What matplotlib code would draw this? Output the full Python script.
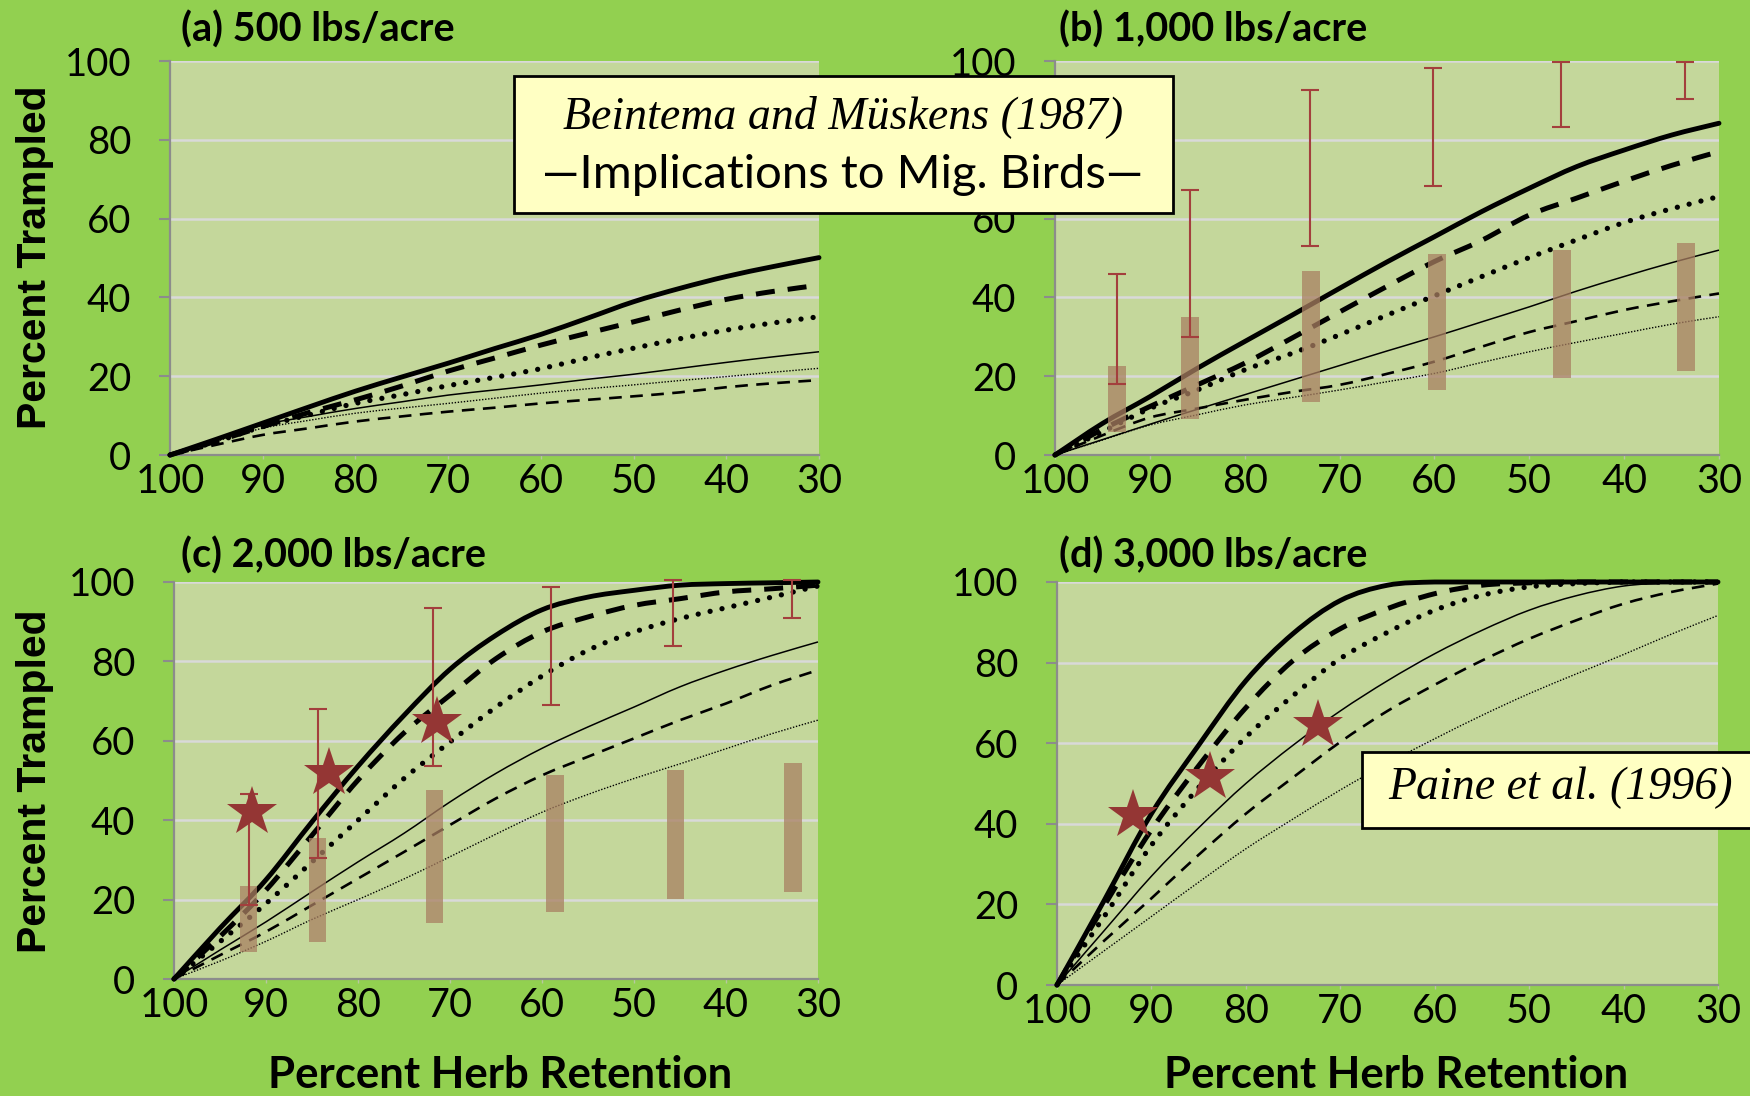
import matplotlib
matplotlib.use('Agg')
import matplotlib.pyplot as plt
from matplotlib.patches import Rectangle, PathPatch
from matplotlib.path import Path

# ---------------- data ----------------
X = [100, 95, 90, 85, 80, 75, 70, 65, 60, 55, 50, 45, 40, 35, 30]
xticks = [100, 90, 80, 70, 60, 50, 40, 30]
yticks = [0, 20, 40, 60, 80, 100]

panel_titles = ["(a) 500 lbs/acre", "(b) 1,000 lbs/acre", "(c) 2,000 lbs/acre", "(d) 3,000 lbs/acre"]

# panel (a)
a_thick_solid = [0, 4, 8.1, 12.2, 16.2, 19.8, 23.3, 27, 30.6, 34.7, 38.9, 42.3, 45.3, 47.8, 50.1]
a_thick_dash  = [0, 3.5, 7.2, 10.8, 14, 17.5, 21.3, 24.6, 27.9, 30.9, 33.8, 36.8, 39.5, 41.5, 43.1]
a_thick_dot   = [0, 3.4, 7.2, 10.2, 13.1, 15.3, 17.6, 19.7, 21.9, 24.6, 27.1, 29.5, 31.7, 33.5, 35.1]
a_thin_solid  = [0, 3.8, 7.6, 9.8, 11.8, 13.5, 15.2, 16.5, 17.8, 19.2, 20.5, 22, 23.5, 24.9, 26.2]
a_thin_dash   = [0, 2.6, 5.1, 6.8, 8.5, 9.8, 11, 12, 13.1, 14, 14.9, 15.9, 17.2, 18.2, 19]
a_thin_dot    = [0, 3.5, 6.8, 8.8, 10.6, 11.9, 13.1, 14.4, 15.7, 16.8, 17.8, 18.9, 19.9, 21, 22]

# panel (b)
b_thick_solid = [0, 8, 14.8, 22, 28.8, 35.5, 42.3, 49, 55.4, 61.8, 67.7, 73.2, 77.4, 81.2, 84.2]
b_thick_dash  = [0, 6.5, 12.3, 17.8, 23.3, 29.7, 36.3, 42.8, 49.1, 54.5, 60.9, 65.2, 69.5, 73.5, 77]
b_thick_dot   = [0, 5.9, 11.8, 16.5, 21.6, 25.8, 30.5, 35.5, 40.4, 45.3, 50.1, 54.6, 59, 62.5, 65.6]
b_thin_solid  = [0, 3.9, 7.8, 11.6, 15.3, 19, 22.7, 26.4, 30, 33.8, 37.6, 41.6, 45.3, 48.8, 52]
b_thin_dash   = [0, 5, 9.5, 11.8, 14, 16, 17.8, 20.6, 23.7, 27.5, 31.2, 34, 36.8, 39, 41]
b_thin_dot    = [0, 3.8, 7.6, 10.2, 12.7, 14.6, 16.5, 18.6, 20.7, 23.5, 26.2, 28.6, 30.9, 33.2, 35.1]

b_bar_x  = [93.5, 85.8, 73.0, 59.7, 46.5, 33.5]
b_bar_lo = [5.9, 9.1, 13.5, 16.6, 19.6, 21.4]
b_bar_hi = [22.6, 34.9, 46.7, 50.9, 52.0, 53.8]
b_err_x  = [93.5, 85.8, 73.1, 60.1, 46.7, 33.6]
b_err_lo = [18, 30, 53, 68.2, 83.2, 90.4]
b_err_hi = [45.9, 67.3, 92.7, 98.1, 99.8, 99.8]

# panel (c)
c_thick_solid = [0, 12.8, 25, 39.6, 53.6, 66.4, 78, 86.6, 93, 96.2, 97.9, 99.2, 99.6, 99.8, 100]
c_thick_dash  = [0, 10.7, 22.4, 36.2, 50.1, 62, 71.5, 80.7, 87.4, 91.2, 94.1, 95.8, 97.5, 98.3, 99.2]
c_thick_dot   = [0, 9.4, 19, 29.5, 40, 50.5, 59.7, 68.5, 76.3, 82.8, 87.4, 90.8, 93.5, 96.2, 99]
c_thin_solid  = [0, 7.3, 14.4, 22, 29.5, 36.7, 44.6, 51.8, 58.1, 63.5, 68.5, 73.6, 77.8, 81.5, 84.9]
c_thin_dash   = [0, 6, 11.9, 18.6, 25.3, 32, 38.8, 45.5, 51.3, 56, 60.6, 65.2, 69.4, 74, 77.8]
c_thin_dot    = [0, 4.5, 9.5, 15, 20, 25.2, 30.8, 36.5, 42, 46.5, 50.5, 54.2, 58, 61.8, 65.2]

c_bar_x  = [91.9, 84.4, 71.7, 58.6, 45.5, 32.7]
c_bar_lo = [6.9, 9.4, 14.2, 16.9, 20.2, 22.0]
c_bar_hi = [23.4, 35.4, 47.6, 51.5, 52.6, 54.4]
c_err_x  = [91.9, 84.4, 71.9, 59.0, 45.8, 32.8]
c_err_lo = [18.6, 30.6, 53.6, 68.9, 83.9, 91.0]
c_err_hi = [46.6, 67.9, 93.4, 98.8, 100.4, 100.4]
c_star_x = [91.5, 83.2, 71.4]
c_star_y = [42.1, 51.8, 64.8]

# panel (d)
d_thick_solid = [0, 21, 42.5, 59.5, 75.5, 87.2, 95.4, 99.2, 100, 100, 100, 100, 100, 100, 100]
d_thick_dash  = [0, 19.7, 38.5, 54.4, 68.8, 80.5, 88.4, 93.4, 97.1, 99.2, 99.8, 100, 100, 100, 100]
d_thick_dot   = [0, 17, 34.7, 49, 61.5, 71.8, 81, 87.5, 93, 96.7, 98.8, 99.6, 100, 100, 100]
d_thin_solid  = [0, 13.5, 27, 39, 50, 59.5, 68, 75.5, 82.2, 88, 93, 96.6, 99, 99.8, 100]
d_thin_dash   = [0, 11, 21.5, 32.3, 42.5, 51.5, 60.3, 68, 74.5, 80.5, 85.9, 90.5, 94.6, 97.5, 99.6]
d_thin_dot    = [0, 8.5, 17, 25.5, 33.8, 41.2, 48.4, 55, 61.1, 66.9, 72.3, 77.2, 82, 87, 91.7]
d_star_x = [92.0, 83.8, 72.4]
d_star_y = [42.1, 51.7, 64.4]

# ---------------- styles ----------------
FIG_BG = '#92D050'
PLOT_BG = '#C4D79B'
GRID = '#D9D9D9'
AXCOL = '#8C8C8C'
BAR_COL = '#A98062'
ERR_COL = '#A33F3D'
STAR_COL = '#943634'
CAL = ['Lato', 'DejaVu Sans']

styles = [
    dict(lw=3.5, ls='-', cap='round'),
    dict(lw=3.6, ls=(0, (3.8, 2.6)), cap='butt'),
    dict(lw=3.8, ls=(0, (0.01, 2.3)), cap='round'),
    dict(lw=1.1, ls='-', cap='butt'),
    dict(lw=1.9, ls=(0, (4.8, 3.2)), cap='butt'),
    dict(lw=1.0, ls=(0, (1, 1.2)), cap='butt'),
]

W, H = 1750, 1096
fig = plt.figure(figsize=(W / 100, H / 100), dpi=100, facecolor=FIG_BG)


def px_axes(left, top, right, bottom):
    return fig.add_axes([left / W, 1 - bottom / H, (right - left) / W, (bottom - top) / H])


def setup(ax):
    ax.set_facecolor(PLOT_BG)
    ax.set_xlim(100, 30)
    ax.set_ylim(0, 100)
    ax.set_xticks(xticks)
    ax.set_xticklabels([str(v) for v in xticks], fontfamily=CAL)
    ax.set_yticks(yticks)
    ax.set_yticklabels([str(v) for v in yticks], fontfamily=CAL)
    ax.grid(axis='y', color=GRID, lw=1.8)
    ax.set_axisbelow(True)
    for s in ['top', 'right']:
        ax.spines[s].set_visible(False)
    for s in ['left', 'bottom']:
        ax.spines[s].set_color(AXCOL)
        ax.spines[s].set_linewidth(1.6)
    ax.tick_params(axis='y', direction='out', length=8, width=1.5, color=AXCOL,
                   pad=20, labelsize=27.5)
    ax.tick_params(axis='x', direction='out', length=3, width=1, color='#B8C8A0',
                   pad=3, labelsize=28.5)


def smooth_path(xs, ys):
    # smoothed line through the data points (like a spreadsheet "smoothed line")
    pts = list(zip(xs, ys))
    n = len(pts)
    verts = [pts[0]]
    codes = [Path.MOVETO]
    for i in range(n - 1):
        p0 = pts[i - 1] if i > 0 else pts[i]
        p1 = pts[i]
        p2 = pts[i + 1]
        p3 = pts[i + 2] if i + 2 < n else pts[i + 1]
        c1 = (p1[0] + (p2[0] - p0[0]) / 6, min(100, p1[1] + (p2[1] - p0[1]) / 6))
        c2 = (p2[0] - (p3[0] - p1[0]) / 6, min(100, p2[1] - (p3[1] - p1[1]) / 6))
        verts += [c1, c2, p2]
        codes += [Path.CURVE4] * 3
    return Path(verts, codes)


def curves(ax, series):
    for ys, st in zip(series, styles):
        p = PathPatch(smooth_path(X, ys), fill=False, edgecolor='black', lw=st['lw'],
                      ls=st['ls'], capstyle=st['cap'], joinstyle='round',
                      zorder=3, clip_on=False)
        ax.add_patch(p)


def bars_err(ax, bx, blo, bhi, ex, elo, ehi):
    ax.bar(bx, [h - l for h, l in zip(bhi, blo)], bottom=blo, width=1.9,
           color=BAR_COL, alpha=0.75, zorder=4, linewidth=0)
    mid = [(h + l) / 2 for h, l in zip(ehi, elo)]
    half = [(h - l) / 2 for h, l in zip(ehi, elo)]
    eb = ax.errorbar(ex, mid, yerr=half, fmt='none', ecolor=ERR_COL, elinewidth=1.5,
                     capsize=6.5, capthick=1.5, zorder=5)
    for art in list(eb.lines[1]) + list(eb.lines[2]):
        art.set_clip_on(False)


def stars(ax, sx, sy):
    ax.plot(sx, sy, ls='none', marker='*', markersize=38, color=STAR_COL,
            markeredgewidth=0, zorder=6, clip_on=False)


axA = px_axes(170, 61, 819, 455)
axB = px_axes(1055, 61, 1719, 455)
axC = px_axes(174, 582, 818, 979)
axD = px_axes(1057, 582, 1718, 985)

for ax in (axA, axB, axC, axD):
    setup(ax)

# the "80" label of panel (b) sits hidden behind the citation box
axB.get_yticklabels()[4].set_visible(False)

curves(axA, [a_thick_solid, a_thick_dash, a_thick_dot, a_thin_solid, a_thin_dash, a_thin_dot])
curves(axB, [b_thick_solid, b_thick_dash, b_thick_dot, b_thin_solid, b_thin_dash, b_thin_dot])
curves(axC, [c_thick_solid, c_thick_dash, c_thick_dot, c_thin_solid, c_thin_dash, c_thin_dot])
curves(axD, [d_thick_solid, d_thick_dash, d_thick_dot, d_thin_solid, d_thin_dash, d_thin_dot])

bars_err(axB, b_bar_x, b_bar_lo, b_bar_hi, b_err_x, b_err_lo, b_err_hi)
bars_err(axC, c_bar_x, c_bar_lo, c_bar_hi, c_err_x, c_err_lo, c_err_hi)
stars(axC, c_star_x, c_star_y)
stars(axD, d_star_x, d_star_y)

# titles
for (xpx, ypx), t in zip([(181, 30), (1059, 30), (181, 556), (1059, 556)], panel_titles):
    fig.text(xpx / W, 1 - ypx / H, t, fontsize=28.5, fontweight='bold', fontfamily=CAL,
             ha='left', va='center')

# y labels
for ypx in (257, 781):
    fig.text(35 / W, 1 - ypx / H, 'Percent Trampled', rotation=90, fontsize=29.5,
             fontweight='bold', fontfamily=['Liberation Sans', 'DejaVu Sans'],
             ha='center', va='center')

# x labels
for xpx in (500, 1396):
    fig.text(xpx / W, 1 / H, 'Percent Herb Retention', fontsize=31.5, fontweight='bold',
             fontfamily=CAL, ha='center', va='bottom')

# Beintema box
fig.patches.append(Rectangle((514 / W, 1 - 213 / H), 659 / W, 137 / H, transform=fig.transFigure,
                             facecolor='#FFFFC3', edgecolor='black', lw=2, zorder=20))
fig.text(843 / W, 1 - 117 / H, 'Beintema and Müskens (1987)', fontsize=33, style='italic',
         fontfamily=['Liberation Serif', 'DejaVu Serif'], ha='center', va='center', zorder=21)
fig.text(843 / W, 1 - 175 / H, '\u2014Implications to Mig. Birds\u2014', fontsize=34,
         fontfamily=CAL, ha='center', va='center', zorder=21)

# Paine box
fig.patches.append(Rectangle((1362 / W, 1 - 828 / H), 400 / W, 76 / H, transform=fig.transFigure,
                             facecolor='#FFFFC3', edgecolor='black', lw=2, zorder=20))
fig.text(1560 / W, 1 - 788 / H, 'Paine et al. (1996)', fontsize=33, style='italic',
         fontfamily=['Liberation Serif', 'DejaVu Serif'], ha='center', va='center', zorder=21)

fig.savefig('out.png', dpi=100, facecolor=FIG_BG)
